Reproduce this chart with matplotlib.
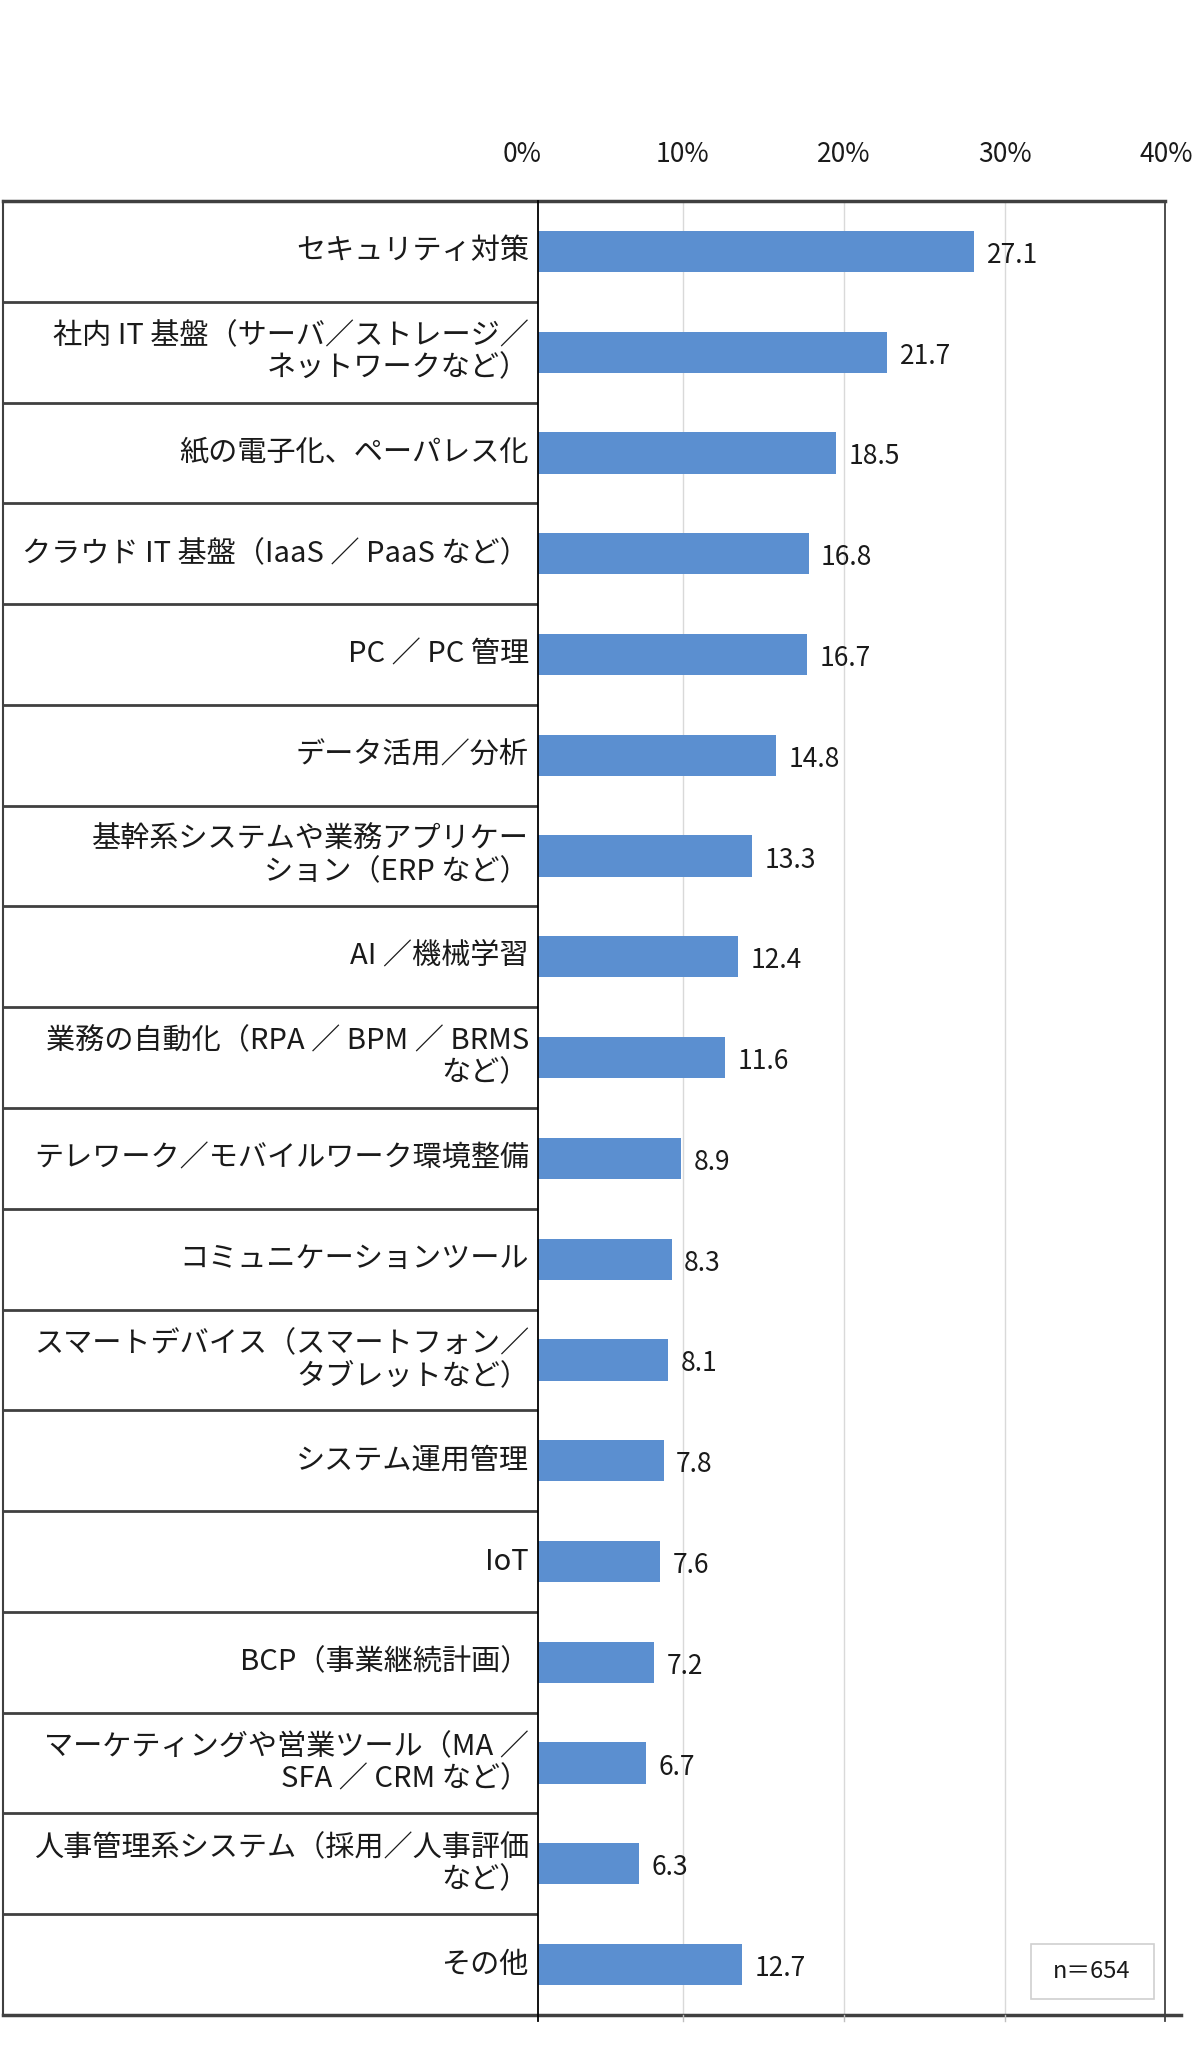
import matplotlib.pyplot as plt
from matplotlib.lines import Line2D
from matplotlib.patches import Rectangle

plt.rcParams['font.family'] = ['Noto Sans CJK JP', 'DejaVu Sans']

# データ（上から順）
labels = [
    "セキュリティ対策",
    "社内 IT 基盤（サーバ／ストレージ／\nネットワークなど）",
    "紙の電子化、ペーパレス化",
    "クラウド IT 基盤（IaaS ／ PaaS など）",
    "PC ／ PC 管理",
    "データ活用／分析",
    "基幹系システムや業務アプリケー\nション（ERP など）",
    "AI ／機械学習",
    "業務の自動化（RPA ／ BPM ／ BRMS\nなど）",
    "テレワーク／モバイルワーク環境整備",
    "コミュニケーションツール",
    "スマートデバイス（スマートフォン／\nタブレットなど）",
    "システム運用管理",
    "IoT",
    "BCP（事業継続計画）",
    "マーケティングや営業ツール（MA ／\nSFA ／ CRM など）",
    "人事管理系システム（採用／人事評価\nなど）",
    "その他",
]
values = [27.1, 21.7, 18.5, 16.8, 16.7, 14.8, 13.3, 12.4, 11.6,
          8.9, 8.3, 8.1, 7.8, 7.6, 7.2, 6.7, 6.3, 12.7]
tick_values = [0, 10, 20, 30, 40]
tick_labels = ["0%", "10%", "20%", "30%", "40%"]
n_text = "n＝654"

# 目盛りは棒より 1% 左にずれて描かれている
axis_shift = 1.0
x_max = 38.94
bar_color = "#5B8FD0"
text_color = "#1a1a1a"
line_color = "#404040"

W, H = 1200, 2053
fig = plt.figure(figsize=(W / 100, H / 100), dpi=100)

x_left, x_mid, x_right = 3, 538, 1165
y_top, y_bot = 201, 2015


def fx(px):
    return px / W


def fy(py):
    return 1 - py / H


def tick_x(t):
    return fx(x_mid) + (t - axis_shift) / x_max * fx(x_right - x_mid)


n = len(labels)

# ラベル列
ax_lab = fig.add_axes([fx(x_left), fy(y_bot), fx(x_mid - x_left), fy(y_top) - fy(y_bot)])
ax_lab.set_xlim(0, 1)
ax_lab.set_ylim(n, 0)
ax_lab.axis("off")
for i in range(1, n):
    ax_lab.axhline(i, color=line_color, lw=2.0)
for i, lab in enumerate(labels):
    ax_lab.text(0.983, i + 0.5, lab, ha="right", va="center", fontsize=21,
                color=text_color, linespacing=1.08, multialignment="right")

# 棒グラフ
ax = fig.add_axes([fx(x_mid), fy(y_bot), fx(x_right - x_mid), fy(y_top) - fy(y_bot)])
ax.set_xlim(0, x_max)
ax.set_ylim(n, 0)
ax.axis("off")
for t in tick_values[1:-1]:
    ax.axvline(t - axis_shift, color="#d9d9d9", lw=1.0, zorder=0)
ypos = [i + 0.5 for i in range(n)]
ax.barh(ypos, values, height=0.41, color=bar_color, zorder=2)
for y, v in zip(ypos, values):
    ax.annotate(f"{v:.1f}", (v, y + 0.04), xytext=(9, 0), textcoords="offset points",
                ha="left", va="center", fontsize=19, color=text_color)

# 上部の目盛りラベル
for t, tl in zip(tick_values, tick_labels):
    fig.text(tick_x(t), fy(155), tl, ha="center", va="center", fontsize=19, color=text_color)

# 枠線
fig.add_artist(Line2D([fx(x_left), fx(x_right)], [fy(y_top), fy(y_top)], color=line_color, lw=2.5))
fig.add_artist(Line2D([fx(x_left), fx(1181)], [fy(y_bot), fy(y_bot)], color=line_color, lw=2.5))
fig.add_artist(Line2D([fx(x_left), fx(x_left)], [fy(y_top), fy(y_bot)], color=line_color, lw=1.5))
fig.add_artist(Line2D([fx(x_mid), fx(x_mid)], [fy(y_top), fy(y_bot + 6)], color="black", lw=1.3))
fig.add_artist(Line2D([fx(x_right), fx(x_right)], [fy(y_top), fy(y_bot + 6)], color=line_color, lw=1.3))
for t in tick_values[1:-1]:
    fig.add_artist(Line2D([tick_x(t), tick_x(t)], [fy(y_bot), fy(y_bot + 6)], color="#bfbfbf", lw=1.0))

# n 表示
fig.add_artist(Rectangle((fx(1031), fy(1999)), fx(123), fy(1944) - fy(1999),
                         transform=fig.transFigure, facecolor="white",
                         edgecolor="#d0d0d0", lw=1.2))
fig.text(fx(1092), fy(1972), n_text, ha="center", va="center", fontsize=17, color=text_color)

fig.savefig("out.png", dpi=100, facecolor="white")
